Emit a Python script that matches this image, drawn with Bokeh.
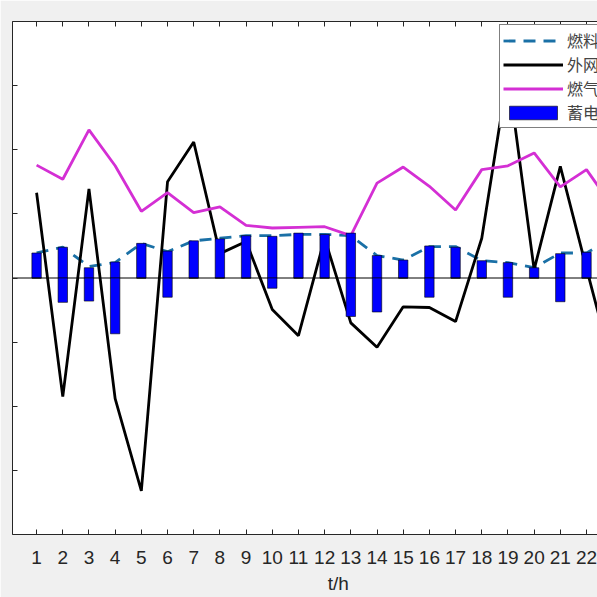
from bokeh.plotting import figure
from bokeh.models import Range1d, FixedTicker, LinearAxis, Legend, LegendItem, Span
from bokeh.embed import file_html
from bokeh.resources import INLINE

# ---- data ----
hours = list(range(1, 24))
fuel_cell = [39, 48, 18, 24, 54, 41, 58, 62, 66, 66, 68, 68, 66, 35, 28, 49, 49, 27, 24, 16, 39, 39, 62]
grid_power = [133, -185, 139, -188, -332, 150, 212, 38, 57, -49, -90, 62, -70, -108, -45, -46, -68, 62, 320, 13, 174, 15, -140]
gas_turbine = [176, 154, 231, 175, 104, 133, 102, 111, 82, 78, 79, 80, 66, 148, 173, 143, 106, 169, 175, 195, 142, 169, 111]
bar_hours = list(range(1, 23))
battery_pos = [39, 48, 16, 25, 54, 42, 58, 61, 66, 65, 70, 68, 70, 35, 28, 50, 48, 27, 24, 16, 38, 40]
battery_neg = [0, -38, -36, -87, 0, -30, 0, 0, 0, -16, 0, 0, -60, -53, 0, -30, 0, 0, -30, 0, -37, 0]
x_ticks = list(range(1, 26))
y_ticks = [-400, -300, -200, -100, 0, 100, 200, 300, 400]
labels = ["燃料电池", "外网购电", "燃气轮机", "蓄电池"]
x_label = "t/h"

AX = "#262626"
X_MID = 12.52   # centre of the full (wider, cropped) axes box, where the x label sits

p = figure(width=597, height=597, output_backend="svg", toolbar_location=None,
           x_range=Range1d(0.08, 22.42), y_range=Range1d(-400, 400),
           min_border_left=12, min_border_right=0, min_border_top=21, min_border_bottom=63,
           x_axis_location=None, y_axis_location=None)
p.background_fill_color = "white"
p.border_fill_color = "#f0f0f0"
p.outline_line_color = None
p.grid.visible = False

xb = LinearAxis(ticker=FixedTicker(ticks=x_ticks), major_tick_in=5, major_tick_out=0,
                minor_tick_line_color=None, axis_line_color=AX, major_tick_line_color=AX,
                major_label_text_font="Liberation Sans", major_label_text_font_size="19px",
                major_label_text_color=AX, major_label_standoff=16)
p.add_layout(xb, "below")

# x axis title, as a one-tick axis under the tick labels
xlab = LinearAxis(ticker=FixedTicker(ticks=[X_MID]), major_label_overrides={X_MID: x_label},
                  axis_line_color=None, major_tick_line_color=None, minor_tick_line_color=None,
                  major_tick_in=0, major_tick_out=0, major_label_standoff=6,
                  major_label_text_font="Liberation Sans", major_label_text_font_size="19px",
                  major_label_text_color=AX)
p.add_layout(xlab, "below")

xt = LinearAxis(ticker=FixedTicker(ticks=x_ticks), major_tick_in=5, major_tick_out=0,
                minor_tick_line_color=None, axis_line_color=AX, major_tick_line_color=AX,
                major_label_overrides={t: "" for t in x_ticks}, major_label_text_font_size="1px",
                major_label_standoff=0)
p.add_layout(xt, "above")

yl = LinearAxis(ticker=FixedTicker(ticks=y_ticks), major_tick_in=5, major_tick_out=0,
                minor_tick_line_color=None, axis_line_color=AX, major_tick_line_color=AX,
                major_label_overrides={t: "" for t in y_ticks}, major_label_text_font_size="1px",
                major_label_standoff=0)
p.add_layout(yl, "left")

p.add_layout(Span(location=0, dimension="width", line_color="black", line_width=1, level="underlay"))

r_fc = p.line(hours, fuel_cell, line_color="#1a70a6", line_width=2.8, line_dash="12 8")
r_grid = p.line(hours, grid_power, line_color="black", line_width=2.8)
r_gt = p.line(hours, gas_turbine, line_color="#d42fd4", line_width=2.8)
r_bp = p.vbar(x=bar_hours, top=battery_pos, bottom=0, width=0.36,
              fill_color="#0000FF", line_color="black", line_width=0.6)
r_bn = p.vbar(x=bar_hours, top=0, bottom=battery_neg, width=0.36,
              fill_color="#0000FF", line_color="black", line_width=0.6)

legend = Legend(items=[LegendItem(label=labels[0], renderers=[r_fc]),
                       LegendItem(label=labels[1], renderers=[r_grid]),
                       LegendItem(label=labels[2], renderers=[r_gt]),
                       LegendItem(label=labels[3], renderers=[r_bp])],
                location=(487, 406), glyph_width=60, glyph_height=17, label_height=17,
                spacing=0, padding=3, label_standoff=4, margin=0,
                label_text_font="Noto Sans CJK SC", label_text_font_size="16px",
                border_line_color="black", border_line_width=1,
                background_fill_color="white", background_fill_alpha=1)
p.add_layout(legend)

open("out.html", "w").write(file_html(p, INLINE))
